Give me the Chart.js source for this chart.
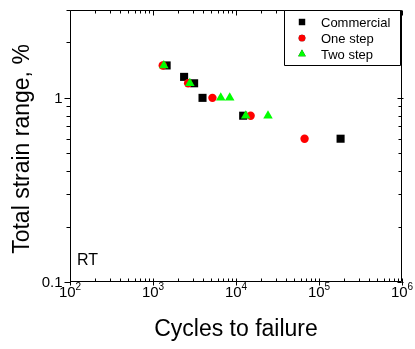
<!DOCTYPE html>
<html>
<head>
<meta charset="utf-8">
<script src="https://cdn.jsdelivr.net/npm/chart.js@4/dist/chart.umd.min.js"></script>
<style>
  html, body { margin: 0; padding: 0; background: #fff; }
  #wrap { width: 415px; height: 349px; }
</style>
</head>
<body>
<div id="wrap"><canvas id="fatigueChart" width="415" height="349"></canvas></div>
<script>
// ── Data (cycles to failure vs total strain range, %) ─────────────────────
const commercialCycles = [1460, 2370, 3130, 3950, 12200, 182000];
const commercialStrain = [1.5, 1.3, 1.2, 1.0, 0.8, 0.6];
const oneStepCycles    = [1310, 2650, 5200, 15000, 67000];
const oneStepStrain    = [1.5, 1.2, 1.0, 0.8, 0.6];
const twoStepCycles    = [1350, 2780, 6550, 8400, 13100, 24300];
const twoStepStrain    = [1.5, 1.2, 1.0, 1.0, 0.8, 0.8];

const xMajorTicks = [100, 1000, 10000, 100000, 1000000];
const xTickExps   = ['2', '3', '4', '5', '6'];
const yLabelTicks = [0.1, 1];
const yTickLabels = ['0.1', '1'];

const FONT = '"Liberation Sans", Arial, sans-serif';

function toPoints(xs, ys) {
    return xs.map((x, i) => ({ x: x, y: ys[i] }));
}

// ── Frame, ticks, labels, legend ──────────────────────────────────────────
const framePlugin = {
    id: 'frame',
    afterDraw(chart) {
        const ctx = chart.ctx;
        const a = chart.chartArea;
        const xs = chart.scales.x, ys = chart.scales.y;
        const L = Math.round(a.left) + 0.5, R = Math.round(a.right) - 0.5;
        const T = Math.round(a.top) + 0.5, B = Math.round(a.bottom) - 0.5;

        ctx.save();
        ctx.strokeStyle = '#000';
        ctx.lineWidth = 1;
        ctx.beginPath();
        ctx.rect(L, T, R - L, B - T);
        ctx.stroke();

        // x ticks (top and bottom)
        ctx.beginPath();
        for (let d = 100; d <= 1000000; d *= 10) {
            for (let m = 1; m <= 9; m++) {
                const v = d * m;
                if (v > 1000000) break;
                const px = Math.round(xs.getPixelForValue(v)) + 0.5;
                const major = m === 1;
                ctx.moveTo(px, B - 3); ctx.lineTo(px, B + (major ? 4 : 0));
                ctx.moveTo(px, T); ctx.lineTo(px, T + (major ? 5 : 3));
            }
        }
        // y ticks (left and right)
        for (let d = 0.1; d <= 1.01; d *= 10) {
            for (let m = 1; m <= 9; m++) {
                const v = d * m;
                if (v > 3.0001) break;
                const py = Math.round(ys.getPixelForValue(v)) + 0.5;
                const major = m === 1;
                ctx.moveTo(L, py); ctx.lineTo(L - (major ? 6 : 4), py);
                ctx.moveTo(R, py); ctx.lineTo(R - (major ? 4 : 3), py);
                if (major) { ctx.moveTo(R, py); ctx.lineTo(R + 2, py); }
            }
        }
        ctx.stroke();

        // x tick labels with superscript exponents
        ctx.fillStyle = '#000';
        ctx.textBaseline = 'alphabetic';
        xMajorTicks.forEach((v, i) => {
            const px = xs.getPixelForValue(v);
            ctx.font = '15px ' + FONT;
            const wBase = ctx.measureText('10').width;
            ctx.font = '10px ' + FONT;
            const wExp = ctx.measureText(xTickExps[i]).width;
            const x0 = px - (wBase + wExp) / 2;
            ctx.font = '15px ' + FONT;
            ctx.textAlign = 'left';
            ctx.fillText('10', x0, 297);
            ctx.font = '10px ' + FONT;
            ctx.fillText(xTickExps[i], x0 + wBase, 290);
        });

        // y tick labels
        ctx.font = '15px ' + FONT;
        ctx.textAlign = 'right';
        ctx.textBaseline = 'middle';
        yLabelTicks.forEach((v, i) => {
            ctx.fillText(yTickLabels[i], L - 8, ys.getPixelForValue(v) + 1);
        });

        // axis titles
        ctx.font = '23px ' + FONT;
        ctx.textAlign = 'center';
        ctx.textBaseline = 'middle';
        ctx.fillText('Cycles to failure', (a.left + a.right) / 2, 330);
        ctx.save();
        ctx.translate(23, 149);
        ctx.rotate(-Math.PI / 2);
        ctx.fillText('Total strain range, %', 0, 0);
        ctx.restore();

        // RT annotation
        ctx.font = '16px ' + FONT;
        ctx.textAlign = 'left';
        ctx.textBaseline = 'alphabetic';
        ctx.fillText('RT', 77, 265);

        // legend box
        ctx.beginPath();
        ctx.rect(284.5, 10.5, 116, 55);
        ctx.fillStyle = '#fff';
        ctx.fill();
        ctx.stroke();
        ctx.font = '13px ' + FONT;
        ctx.textBaseline = 'middle';
        chart.data.datasets.forEach((ds, i) => {
            const ly = 22 + i * 16;
            Chart.helpers.drawPoint(ctx, {
                pointStyle: ds.pointStyle,
                radius: ds.pointRadius * 0.8,
                borderWidth: 0
            }, 302, ly);
            ctx.fillStyle = ds.backgroundColor;
            ctx.fill();
            ctx.fillStyle = '#000';
            ctx.fillText(ds.label, 321, ly + 1);
        });
        ctx.restore();
    }
};

// ── Chart ─────────────────────────────────────────────────────────────────
const ctx = document.getElementById('fatigueChart').getContext('2d');
const chart = new Chart(ctx, {
    type: 'scatter',
    data: {
        datasets: [
            { label: 'Commercial', data: toPoints(commercialCycles, commercialStrain), pointStyle: 'rect',
              backgroundColor: '#000000', borderColor: '#000000', borderWidth: 0, pointRadius: 5.7, order: 3 },
            { label: 'One step', data: toPoints(oneStepCycles, oneStepStrain), pointStyle: 'circle',
              backgroundColor: '#ff0000', borderColor: '#ff0000', borderWidth: 0, pointRadius: 4.2, order: 2 },
            { label: 'Two step', data: toPoints(twoStepCycles, twoStepStrain), pointStyle: 'triangle',
              backgroundColor: '#00ff00', borderColor: '#00ff00', borderWidth: 0, pointRadius: 5.5, order: 1 }
        ]
    },
    options: {
        responsive: false,
        animation: false,
        devicePixelRatio: 1,
        layout: { padding: { left: 70, top: 10, right: 13, bottom: 67 } },
        plugins: { legend: { display: false }, tooltip: { enabled: false } },
        scales: {
            x: { type: 'logarithmic', min: 100, max: 1000000, display: false },
            y: { type: 'logarithmic', min: 0.1, max: 3, display: false }
        }
    },
    plugins: [framePlugin]
});
</script>
</body>
</html>
